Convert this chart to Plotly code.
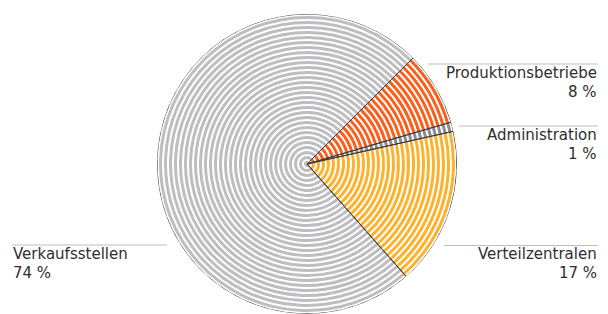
import plotly.graph_objects as go

categories = ["Produktionsbetriebe", "Administration", "Verteilzentralen", "Verkaufsstellen"]
values = [8, 1, 17, 74]
pct_labels = ["8 %", "1 %", "17 %", "74 %"]
colors = ["#F9601D", "#8C8C90", "#FDB22E", "#BEBEC2"]

W, H = 608, 314
R = 150
N_RINGS = 30
PERIOD = R / N_RINGS
STROKE = 3.0

fig = go.Figure()

start = 0.0
thetas, widths = [], []
for v in values:
    w = v * 3.6
    thetas.append(start + w / 2)
    widths.append(w)
    start += w

for cat, th, w, col in zip(categories, thetas, widths, colors):
    bases = [i * PERIOD for i in range(N_RINGS)]
    fig.add_trace(go.Barpolar(
        theta=[th] * N_RINGS, width=[w] * N_RINGS,
        base=bases, r=[STROKE] * N_RINGS,
        marker=dict(color=col, line=dict(width=0)),
        hoverinfo="skip", showlegend=False, name=cat,
    ))

# slice outlines
fig.add_trace(go.Barpolar(
    theta=thetas, width=widths, base=[0] * len(values), r=[R] * len(values),
    marker=dict(color="rgba(0,0,0,0)", line=dict(color="#3c3c3c", width=1)),
    hoverinfo="skip", showlegend=False,
))

cx, cy = 307, 164
fig.update_layout(
    width=W, height=H, margin=dict(l=0, r=0, t=0, b=0),
    paper_bgcolor="white", plot_bgcolor="white",
    polar=dict(
        domain=dict(x=[(cx - R) / W, (cx + R) / W], y=[1 - (cy + R) / H, 1 - (cy - R) / H]),
        bgcolor="white", bargap=0, barmode="overlay",
        radialaxis=dict(visible=False, range=[0, R]),
        angularaxis=dict(visible=False, rotation=45, direction="clockwise"),
    ),
)

FS = 15
font = dict(family="DejaVu Sans, sans-serif", size=FS, color="#2e2e2e")
line_col = "#BDBDBD"
# label placements: (text x, line y, line x0, line x1, anchor)
placements = [
    (598, 64, 428, 598, "right"),
    (598, 126, 459, 598, "right"),
    (598, 245.5, 444, 598, "right"),
    (12, 245, 12, 167, "left"),
]
for cat, pct, (tx, ly, x0, x1, anc) in zip(categories, pct_labels, placements):
    fig.add_shape(type="line", xref="paper", yref="paper",
                  x0=x0 / W, x1=x1 / W, y0=1 - ly / H, y1=1 - ly / H,
                  line=dict(color=line_col, width=1))
    for txt, base in ((cat, ly + 14), (pct, ly + 33)):
        mid = base - 0.35 * FS
        fig.add_annotation(xref="paper", yref="paper", x=tx / W, y=1 - mid / H,
                           xanchor=anc, yanchor="middle", align=anc, showarrow=False,
                           text=txt, font=font, borderpad=0)

fig.write_html("out.html", config={"displayModeBar": False},
               post_script="document.body.style.margin='0';document.body.style.overflow='hidden';")
